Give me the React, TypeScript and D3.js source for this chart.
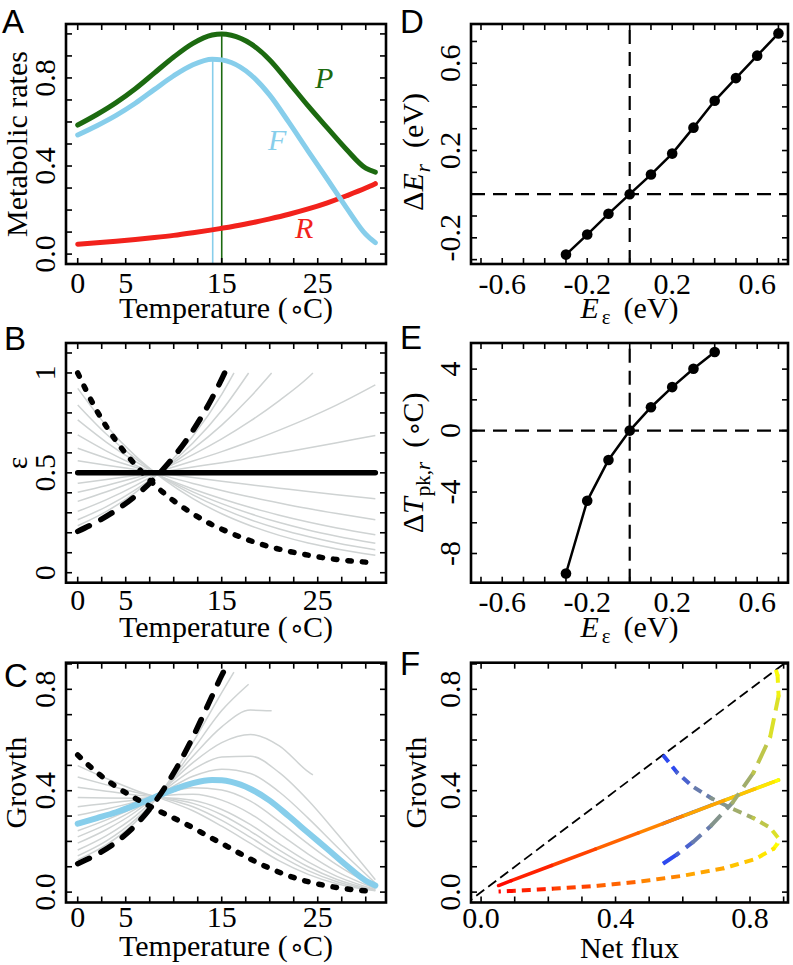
import React from "react";
import * as d3 from "d3";

const W = 793, H = 965;
const serif = "'Liberation Serif','Times New Roman',Times,serif";
const sans = "'Liberation Sans',Arial,Helvetica,sans-serif";
const FS = 30;

// ---------------- Data ----------------
// Panel A (temperature grid, degC)
const tempA = [0, 2, 4, 6, 8, 10, 12, 14, 15, 16, 18, 20, 22, 24, 26, 28, 30, 31];
const netFluxF = [0.541, 0.583, 0.630, 0.685, 0.748, 0.810, 0.860, 0.885, 0.882, 0.870, 0.815, 0.722, 0.598, 0.468, 0.340, 0.210, 0.090, 0.052];
const respR = [0.045, 0.051, 0.058, 0.066, 0.075, 0.085, 0.097, 0.110, 0.117, 0.124, 0.141, 0.160, 0.181, 0.205, 0.233, 0.265, 0.300, 0.320];
const photoP = [0.586, 0.634, 0.688, 0.751, 0.823, 0.895, 0.957, 0.995, 1.0, 0.994, 0.956, 0.882, 0.779, 0.673, 0.573, 0.475, 0.390, 0.372];
const peakTemps = [15.0, 14.06]; // P, F
const peakVals = [1.0, 0.885];

// Panel B / C special curves (on tempA)
const epsMeanT = [0, 31];
const epsMean = [0.5, 0.5];
const epsDashed = [0.207, 0.255, 0.313, 0.384, 0.472, 0.58, 0.712, 0.875, 0.97];
const dashedCapT = 15.3;
const epsDashedCap = 1.0;
const epsDotted = [1.0, 0.81, 0.66, 0.54, 0.44, 0.36, 0.295, 0.24, 0.218, 0.197, 0.16, 0.13, 0.107, 0.088, 0.072, 0.061, 0.053, 0.05];
const growthMean = [0.27, 0.292, 0.315, 0.343, 0.374, 0.405, 0.43, 0.442, 0.441, 0.435, 0.407, 0.361, 0.299, 0.234, 0.17, 0.105, 0.045, 0.026];
const growthDashed = [0.112, 0.149, 0.197, 0.263, 0.353, 0.47, 0.612, 0.774, 0.855];
const growthDashedCap = 0.877;
const fluxDashedCap = 0.877;
const growthDotted = [0.541, 0.472, 0.416, 0.37, 0.329, 0.292, 0.254, 0.212, 0.192, 0.171, 0.130, 0.094, 0.064, 0.041, 0.0245, 0.0128, 0.0048, 0.0026];

// Grey curves for B and C (on tempBC)
const tempBC = [0, 3, 6, 9, 12, 15, 18, 21, 24, 27, 31];
const epsGrey = [
  [0.235, 0.307, 0.401, 0.524, 0.684, 0.893],
  [0.265, 0.331, 0.415, 0.519, 0.649, 0.812],
  [0.307, 0.366, 0.436, 0.52, 0.62, 0.739, 0.881],
  [0.357, 0.405, 0.459, 0.521, 0.591, 0.67, 0.76, 0.862, 0.977],
  [0.403, 0.437, 0.475, 0.515, 0.559, 0.606, 0.658, 0.714, 0.774, 0.84, 0.94],
  [0.448, 0.467, 0.487, 0.507, 0.529, 0.551, 0.574, 0.599, 0.624, 0.651, 0.687],
  [0.56, 0.538, 0.517, 0.496, 0.477, 0.458, 0.44, 0.423, 0.406, 0.39, 0.37],
  [0.623, 0.573, 0.528, 0.486, 0.447, 0.412, 0.379, 0.349, 0.321, 0.296, 0.265],
  [0.69, 0.609, 0.538, 0.475, 0.419, 0.37, 0.326, 0.288, 0.254, 0.224, 0.19],
  [0.765, 0.653, 0.557, 0.475, 0.405, 0.346, 0.295, 0.251, 0.214, 0.183, 0.148],
  [0.84, 0.693, 0.572, 0.472, 0.39, 0.322, 0.265, 0.219, 0.181, 0.149, 0.115],
  [0.923, 0.735, 0.585, 0.466, 0.371, 0.295, 0.235, 0.187, 0.149, 0.119, 0.087],
];
const greyCapT = [16.27, 17.8, 20.2, 24.5, null, null, null, null, null, null, null, null];
const epsGreyCap = [1.0, 1.0, 1.0, 1.0, null, null, null, null, null, null, null, null];
const growthGrey = [
  [0.127, 0.187, 0.276, 0.41, 0.591, 0.787],
  [0.143, 0.202, 0.286, 0.406, 0.561, 0.716],
  [0.166, 0.223, 0.30, 0.407, 0.536, 0.652, 0.718],
  [0.193, 0.247, 0.316, 0.408, 0.511, 0.59, 0.622, 0.577, 0.475],
  [0.218, 0.267, 0.327, 0.403, 0.483, 0.533, 0.536, 0.471, 0.362, 0.231, 0.049],
  [0.242, 0.285, 0.335, 0.397, 0.457, 0.485, 0.468, 0.395, 0.292, 0.179, 0.036],
  [0.303, 0.328, 0.356, 0.388, 0.412, 0.403, 0.359, 0.279, 0.19, 0.107, 0.019],
  [0.337, 0.35, 0.363, 0.381, 0.386, 0.363, 0.309, 0.23, 0.15, 0.081, 0.014],
  [0.373, 0.371, 0.37, 0.372, 0.362, 0.326, 0.266, 0.19, 0.119, 0.062, 0.01],
  [0.414, 0.398, 0.383, 0.372, 0.35, 0.305, 0.24, 0.166, 0.10, 0.05, 0.008],
  [0.454, 0.423, 0.394, 0.37, 0.337, 0.283, 0.216, 0.145, 0.085, 0.041, 0.006],
  [0.499, 0.448, 0.402, 0.365, 0.321, 0.26, 0.192, 0.123, 0.07, 0.033, 0.005],
];
const growthGreyCap = [0.868, 0.82, 0.715, 0.462, null, null, null, null, null, null, null, null];

// Panel D and E
const eEpsD = [-0.3, -0.2, -0.1, 0, 0.1, 0.2, 0.3, 0.4, 0.5, 0.6, 0.7];
const deltaEr = [-0.277, -0.185, -0.09, 0, 0.09, 0.186, 0.305, 0.428, 0.532, 0.635, 0.737];
const eEpsE = [-0.3, -0.2, -0.1, 0, 0.1, 0.2, 0.3, 0.4];
const deltaTpk = [-9.3, -4.57, -1.91, 0, 1.52, 2.83, 4.02, 5.11];

// Tick labels
const tempTicks = [0, 5, 15, 25];
const tempTickLabels = ["0", "5", "15", "25"];
const rateTicks = [0, 0.4, 0.8];
const rateTickLabels = ["0.0", "0.4", "0.8"];
const epsTicks = [0, 0.5, 1];
const epsTickLabels = ["0", "0.5", "1"];
const eTicks = [-0.6, -0.2, 0.2, 0.6];
const eTickLabels = ["-0.6", "-0.2", "0.2", "0.6"];
const dErTicks = [-0.2, 0.2, 0.6];
const dErTickLabels = ["-0.2", "0.2", "0.6"];
const dTTicks = [-8, -4, 0, 4];
const dTTickLabels = ["-8", "-4", "0", "4"];

// ---------------- Layout ----------------
const colL = [66, 386];
const colR = [471, 788];
const rowTop = [264, 24];
const rowMid = [582.7, 343];
const rowBot = [902.5, 662.7];

const xTemp = d3.scaleLinear().domain([-1.22, 32.11]).range(colL);
const yA = d3.scaleLinear().domain([-0.045, 1.045]).range(rowTop);
const yB = d3.scaleLinear().domain([-0.05, 1.15]).range(rowMid);
const yC = d3.scaleLinear().domain([-0.041, 0.905]).range(rowBot);
const xE = d3.scaleLinear().domain([-0.747, 0.745]).range(colR);
const yD = d3.scaleLinear().domain([-0.32, 0.78]).range(rowTop);
const yE = d3.scaleLinear().domain([-9.9, 5.7]).range(rowMid);
const xF = d3.scaleLinear().domain([-0.03, 0.913]).range(colR);
const yF = d3.scaleLinear().domain([-0.041, 0.905]).range(rowBot);

const tempColor = d3.scaleLinear<string>().domain([0, 15.5, 31]).range(["#1f3cff", "#ffff00", "#ff0000"]);

const TL = 6;
const stepTicks = (a: number, b: number, s: number) => d3.range(Math.round(a / s), Math.round(b / s) + 1).map((k) => +(k * s).toFixed(6));

function Axes({ xs, ys, xt, yt, xv, xlab, yv, ylab, xOff = 29 }: any) {
  const [L, R] = xs.range();
  const [B, T] = ys.range();
  return (
    <g>
      <g stroke="#000" strokeWidth={1.6}>
        {xt.map((v: number, i: number) => (
          <g key={"x" + i}>
            <line x1={xs(v)} x2={xs(v)} y1={B} y2={B - TL} />
            <line x1={xs(v)} x2={xs(v)} y1={T} y2={T + TL} />
          </g>
        ))}
        {yt.map((v: number, i: number) => (
          <g key={"y" + i}>
            <line x1={L} x2={L + TL} y1={ys(v)} y2={ys(v)} />
            <line x1={R} x2={R - TL} y1={ys(v)} y2={ys(v)} />
          </g>
        ))}
      </g>
      <rect x={L} y={T} width={R - L} height={B - T} fill="none" stroke="#000" strokeWidth={2.6} />
      <g fontFamily={serif} fontSize={FS} fill="#000">
        {xv.map((v: number, i: number) => (
          <text key={"xl" + i} x={xs(v)} y={B + xOff} textAnchor="middle">{xlab[i]}</text>
        ))}
        {yv.map((v: number, i: number) => (
          <text key={"yl" + i} transform={`translate(${L - 11},${ys(v)}) rotate(-90)`} textAnchor="middle">{ylab[i]}</text>
        ))}
      </g>
    </g>
  );
}

function pathOf(xs: any, ys: any, pts: number[][], curve: any = d3.curveMonotoneX) {
  return d3.line<number[]>().x((d) => xs(d[0])).y((d) => ys(d[1])).curve(curve)(pts) || "";
}

function greyPoints(vals: number[], capT: number | null, capV: number | null) {
  const pts = vals.map((v, i) => [tempBC[i], v]);
  if (capT != null && capV != null) pts.push([capT, capV]);
  return pts;
}

function GradLine({ id, xs, ys, fx, gy, ts, width, dash }: any) {
  const pts = fx.map((f: number, i: number) => [xs(f), ys(gy[i])]);
  const d = d3.line()(pts) || "";
  const segs = pts.slice(1).map((p: number[], i: number) => ({ a: pts[i], b: p, t: (ts[i] + ts[i + 1]) / 2 }));
  return (
    <g>
      {dash && (
        <mask id={id} maskUnits="userSpaceOnUse" x={0} y={0} width={W} height={H}>
          <path d={d} fill="none" stroke="#fff" strokeWidth={width + 3} strokeDasharray={dash} strokeLinecap="butt" />
        </mask>
      )}
      <g mask={dash ? `url(#${id})` : undefined}>
        {segs.map((s: any, i: number) => (
          <line key={i} x1={s.a[0]} y1={s.a[1]} x2={s.b[0]} y2={s.b[1]} stroke={tempColor(s.t)} strokeWidth={width} strokeLinecap="round" />
        ))}
      </g>
    </g>
  );
}

function Letter({ x, y, s }: any) {
  return <text x={x} y={y} fontFamily={sans} fontSize={33}>{s}</text>;
}

const degree = (
  <tspan fontFamily="'DejaVu Sans'" fontSize={26} dx={1}>{"\u2218"}</tspan>
);

function TempLabel({ y }: any) {
  return (
    <text x={(colL[0] + colL[1]) / 2} y={y} textAnchor="middle" fontFamily={serif} fontSize={FS}>
      Temperature ({degree}<tspan dx={-2}>C)</tspan>
    </text>
  );
}

function EepsLabel({ y }: any) {
  return (
    <text x={(colR[0] + colR[1]) / 2} y={y} textAnchor="middle" fontFamily={serif} fontSize={FS}>
      <tspan fontStyle="italic">E</tspan>
      <tspan fontSize={21} dy={6} dx={3}>ε</tspan>
      <tspan dy={-6} dx={13}>(eV)</tspan>
    </text>
  );
}

export default function App() {
  const ptsA = (vals: number[]) => vals.map((v, i) => [tempA[i], v]);
  const dashedB = epsDashed.map((v, i) => [tempA[i], v]).concat([[dashedCapT, epsDashedCap]]);
  const dashedC = growthDashed.map((v, i) => [tempA[i], v]).concat([[dashedCapT, growthDashedCap]]);
  const fluxDashed = netFluxF.slice(0, growthDashed.length).concat([fluxDashedCap]);
  const tDashed = tempA.slice(0, growthDashed.length).concat([dashedCapT]);
  const growthDashedAll = growthDashed.concat([growthDashedCap]);

  const xtTemp = stepTicks(0, 30, 2.5);

  return (
    <svg width={W} height={H} style={{ position: "absolute", left: 0, top: 0 }} xmlns="http://www.w3.org/2000/svg">
      <rect width={W} height={H} fill="#fff" />

      {/* ---------- Panel A ---------- */}
      <g>
        <line x1={xTemp(peakTemps[1])} x2={xTemp(peakTemps[1])} y1={rowTop[0]} y2={yA(peakVals[1])} stroke="#87CEEB" strokeWidth={1.6} />
        <line x1={xTemp(peakTemps[0])} x2={xTemp(peakTemps[0])} y1={rowTop[0]} y2={yA(peakVals[0])} stroke="#1c6a10" strokeWidth={1.6} />
        <path d={pathOf(xTemp, yA, ptsA(respR))} fill="none" stroke="#f2221c" strokeWidth={5} strokeLinecap="round" />
        <path d={pathOf(xTemp, yA, ptsA(netFluxF))} fill="none" stroke="#87CEEB" strokeWidth={5} strokeLinecap="round" />
        <path d={pathOf(xTemp, yA, ptsA(photoP))} fill="none" stroke="#1c6a10" strokeWidth={5} strokeLinecap="round" />
        <text x={315} y={88} fontFamily={serif} fontStyle="italic" fontSize={30} fill="#1c6a10">P</text>
        <text x={268} y={150} fontFamily={serif} fontStyle="italic" fontSize={30} fill="#87CEEB">F</text>
        <text x={295} y={238} fontFamily={serif} fontStyle="italic" fontSize={30} fill="#f2221c">R</text>
        <Axes xs={xTemp} ys={yA} xt={xtTemp} yt={stepTicks(0, 1.0, 0.1)} xv={tempTicks} xlab={tempTickLabels} yv={rateTicks} ylab={rateTickLabels} xOff={29} />
        <TempLabel y={318} />
        <text transform={`translate(27,${(rowTop[0] + rowTop[1]) / 2}) rotate(-90)`} textAnchor="middle" fontFamily={serif} fontSize={FS}>Metabolic rates</text>
        <Letter x={2} y={33} s="A" />
      </g>

      {/* ---------- Panel B ---------- */}
      <g>
        {epsGrey.map((vals, i) => (
          <path key={i} d={pathOf(xTemp, yB, greyPoints(vals, greyCapT[i], epsGreyCap[i]))} fill="none" stroke="#cfd3d3" strokeWidth={1.5} />
        ))}
        <path d={pathOf(xTemp, yB, epsMean.map((v, i) => [epsMeanT[i], v]), d3.curveLinear)} fill="none" stroke="#000" strokeWidth={5.5} strokeLinecap="round" />
        <path d={pathOf(xTemp, yB, dashedB)} fill="none" stroke="#000" strokeWidth={5.5} strokeLinecap="round" strokeDasharray="13 13" />
        <path d={pathOf(xTemp, yB, ptsA(epsDotted))} fill="none" stroke="#000" strokeWidth={5.5} strokeLinecap="round" strokeDasharray="3.5 11" />
        <Axes xs={xTemp} ys={yB} xt={xtTemp} yt={stepTicks(0, 1.1, 0.1)} xv={tempTicks} xlab={tempTickLabels} yv={epsTicks} ylab={epsTickLabels} xOff={27.5} />
        <TempLabel y={637} />
        <text transform={`translate(27,${(rowMid[0] + rowMid[1]) / 2}) rotate(-90)`} textAnchor="middle" fontFamily={serif} fontSize={FS}>ε</text>
        <Letter x={4} y={350} s="B" />
      </g>

      {/* ---------- Panel C ---------- */}
      <g>
        {growthGrey.map((vals, i) => (
          <path key={i} d={pathOf(xTemp, yC, greyPoints(vals, greyCapT[i], growthGreyCap[i]))} fill="none" stroke="#cfd3d3" strokeWidth={1.5} />
        ))}
        <path d={pathOf(xTemp, yC, ptsA(growthMean))} fill="none" stroke="#87CEEB" strokeWidth={6} strokeLinecap="round" />
        <path d={pathOf(xTemp, yC, dashedC)} fill="none" stroke="#000" strokeWidth={5.5} strokeLinecap="round" strokeDasharray="13 13" />
        <path d={pathOf(xTemp, yC, ptsA(growthDotted))} fill="none" stroke="#000" strokeWidth={5.5} strokeLinecap="round" strokeDasharray="3.5 11" />
        <Axes xs={xTemp} ys={yC} xt={xtTemp} yt={stepTicks(0, 0.9, 0.1)} xv={tempTicks} xlab={tempTickLabels} yv={rateTicks} ylab={rateTickLabels} xOff={24} />
        <TempLabel y={956} />
        <text transform={`translate(26,${(rowBot[0] + rowBot[1]) / 2}) rotate(-90)`} textAnchor="middle" fontFamily={serif} fontSize={FS}>Growth</text>
        <Letter x={4} y={687} s="C" />
      </g>

      {/* ---------- Panel D ---------- */}
      <g>
        <line x1={xE(0)} x2={xE(0)} y1={rowTop[0]} y2={rowTop[1]} stroke="#000" strokeWidth={2.2} strokeDasharray="14 8" />
        <line x1={colR[0]} x2={colR[1]} y1={yD(0)} y2={yD(0)} stroke="#000" strokeWidth={2.2} strokeDasharray="14 8" />
        <path d={pathOf(xE, yD, eEpsD.map((e, i) => [e, deltaEr[i]]), d3.curveLinear)} fill="none" stroke="#000" strokeWidth={2.5} />
        {eEpsD.map((e, i) => <circle key={i} cx={xE(e)} cy={yD(deltaEr[i])} r={5.3} fill="#000" />)}
        <Axes xs={xE} ys={yD} xt={stepTicks(-0.7, 0.7, 0.1)} yt={stepTicks(-0.3, 0.7, 0.1)} xv={eTicks} xlab={eTickLabels} yv={dErTicks} ylab={dErTickLabels} xOff={29.5} />
        <EepsLabel y={318} />
        <text transform={`translate(423,${(rowTop[0] + rowTop[1]) / 2 + 8}) rotate(-90)`} textAnchor="middle" fontFamily={serif} fontSize={FS}>
          Δ<tspan fontStyle="italic">E</tspan>
          <tspan fontStyle="italic" fontSize={21} dy={7} dx={1}>r</tspan>
          <tspan dy={-7} dx={16}>(eV)</tspan>
        </text>
        <Letter x={400} y={33} s="D" />
      </g>

      {/* ---------- Panel E ---------- */}
      <g>
        <line x1={xE(0)} x2={xE(0)} y1={rowMid[0]} y2={rowMid[1]} stroke="#000" strokeWidth={2.2} strokeDasharray="14 8" />
        <line x1={colR[0]} x2={colR[1]} y1={yE(0)} y2={yE(0)} stroke="#000" strokeWidth={2.2} strokeDasharray="14 8" />
        <path d={pathOf(xE, yE, eEpsE.map((e, i) => [e, deltaTpk[i]]), d3.curveLinear)} fill="none" stroke="#000" strokeWidth={2.5} />
        {eEpsE.map((e, i) => <circle key={i} cx={xE(e)} cy={yE(deltaTpk[i])} r={5.3} fill="#000" />)}
        <Axes xs={xE} ys={yE} xt={stepTicks(-0.7, 0.7, 0.1)} yt={stepTicks(-8, 4, 2)} xv={eTicks} xlab={eTickLabels} yv={dTTicks} ylab={dTTickLabels} xOff={29.5} />
        <EepsLabel y={637} />
        <text transform={`translate(423,${(rowMid[0] + rowMid[1]) / 2}) rotate(-90)`} textAnchor="middle" fontFamily={serif} fontSize={FS}>
          Δ<tspan fontStyle="italic">T</tspan>
          <tspan fontSize={21} dy={7} dx={1}>pk,</tspan>
          <tspan fontStyle="italic" fontSize={21}>r</tspan>
          <tspan dy={-7} dx={14}>(</tspan>{degree}<tspan dx={-2}>C)</tspan>
        </text>
        <Letter x={400} y={349} s="E" />
      </g>

      {/* ---------- Panel F ---------- */}
      <g>
        <clipPath id="clipF">
          <rect x={colR[0]} y={rowBot[1]} width={colR[1] - colR[0]} height={rowBot[0] - rowBot[1]} />
        </clipPath>
        <g clipPath="url(#clipF)">
          <line x1={xF(-0.05)} y1={yF(-0.05)} x2={xF(0.95)} y2={yF(0.95)} stroke="#000" strokeWidth={1.8} strokeDasharray="10 5" />
        </g>
        <GradLine id="mDotted" xs={xF} ys={yF} fx={netFluxF} gy={growthDotted} ts={tempA} width={4} dash="9 6" />
        <GradLine id="mSolid" xs={xF} ys={yF} fx={netFluxF} gy={growthMean} ts={tempA} width={3.5} dash={null} />
        <GradLine id="mDashed" xs={xF} ys={yF} fx={fluxDashed} gy={growthDashedAll} ts={tDashed} width={4} dash="20 8" />
        <Axes xs={xF} ys={yF} xt={stepTicks(0, 0.9, 0.1)} yt={stepTicks(0, 0.9, 0.1)} xv={rateTicks} xlab={rateTickLabels} yv={rateTicks} ylab={rateTickLabels} xOff={25.5} />
        <text x={(colR[0] + colR[1]) / 2} y={958} textAnchor="middle" fontFamily={serif} fontSize={FS}>Net flux</text>
        <text transform={`translate(426,${(rowBot[0] + rowBot[1]) / 2}) rotate(-90)`} textAnchor="middle" fontFamily={serif} fontSize={FS}>Growth</text>
        <Letter x={400} y={675} s="F" />
      </g>
    </svg>
  );
}
